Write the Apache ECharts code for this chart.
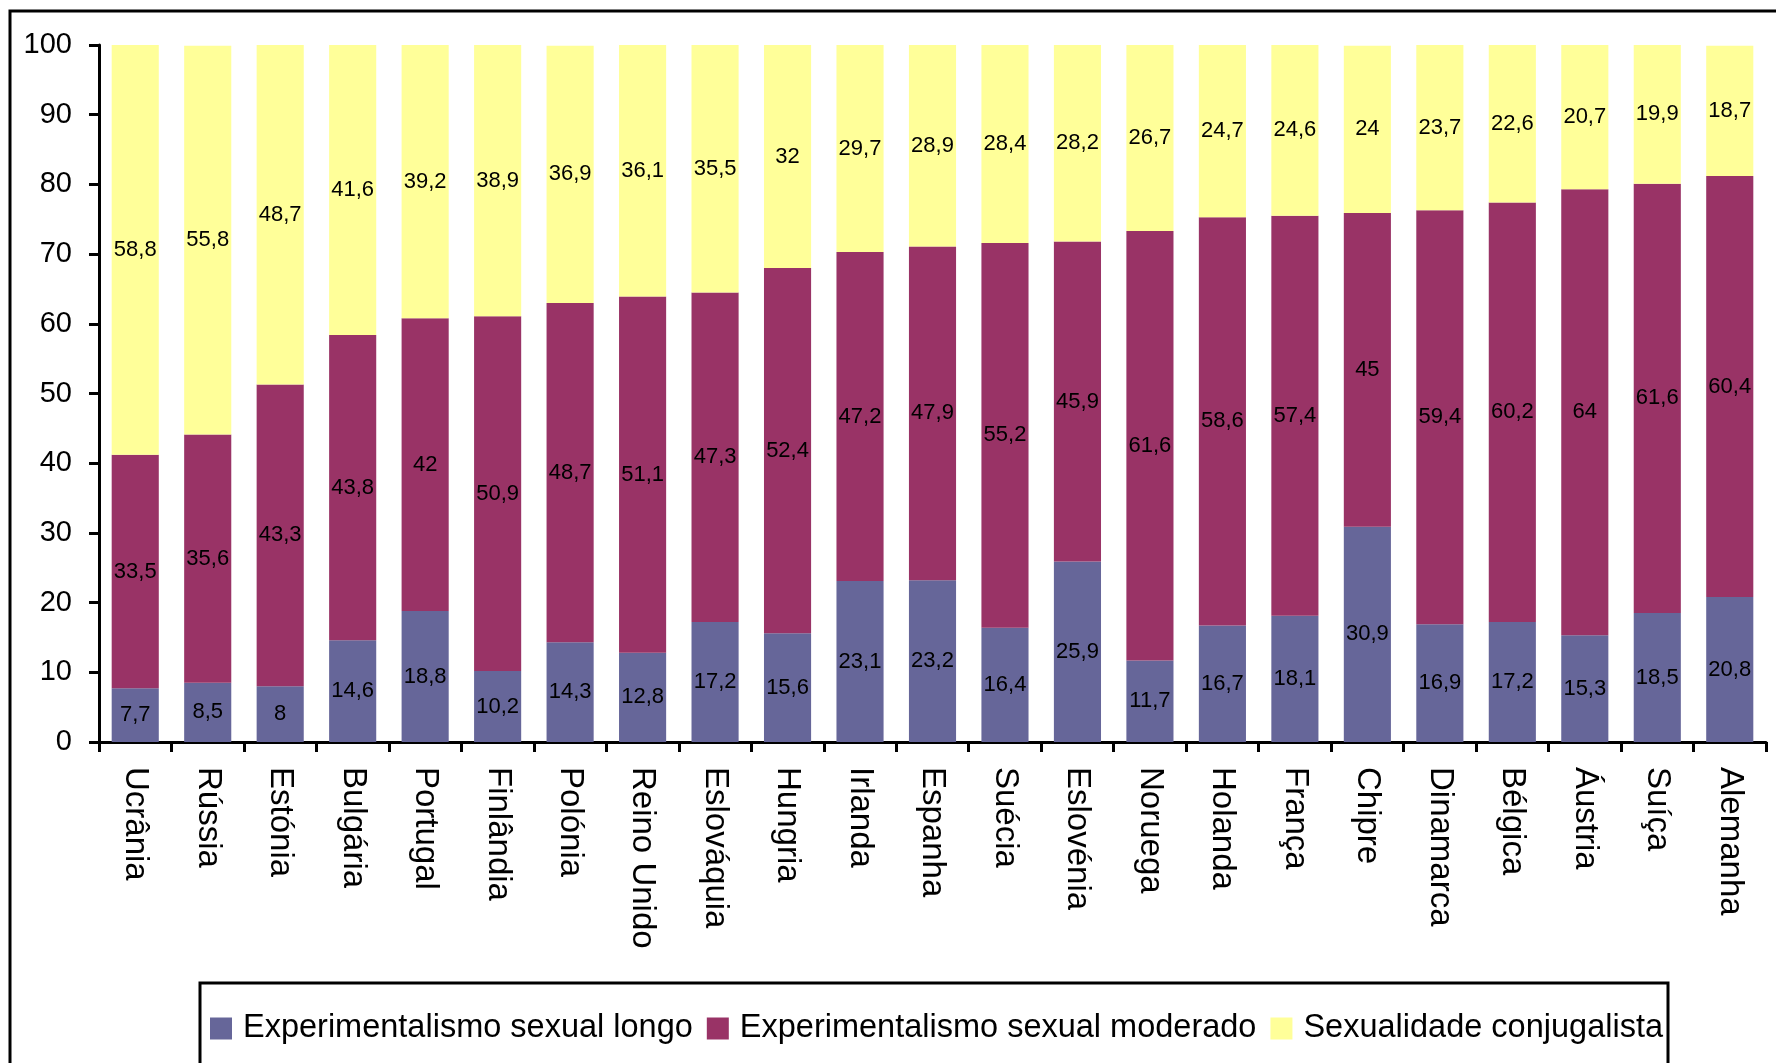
<!DOCTYPE html>
<html>
<head>
<meta charset="utf-8">
<script src="https://cdn.jsdelivr.net/npm/echarts@6/dist/echarts.min.js"></script>
<style>html,body{margin:0;padding:0;background:#fff;}#c{width:1776px;height:1063px;}</style>
</head>
<body>
<div id="c"></div>
<script>
const categories = ["Ucrânia","Rússia","Estónia","Bulgária","Portugal","Finlândia","Polónia","Reino Unido","Eslováquia","Hungria","Irlanda","Espanha","Suécia","Eslovénia","Noruega","Holanda","França","Chipre","Dinamarca","Bélgica","Áustria","Suíça","Alemanha"];
const seriesNames = ["Experimentalismo sexual longo","Experimentalismo sexual moderado","Sexualidade conjugalista"];
const longo = [7.7,8.5,8,14.6,18.8,10.2,14.3,12.8,17.2,15.6,23.1,23.2,16.4,25.9,11.7,16.7,18.1,30.9,16.9,17.2,15.3,18.5,20.8];
const moderado = [33.5,35.6,43.3,43.8,42,50.9,48.7,51.1,47.3,52.4,47.2,47.9,55.2,45.9,61.6,58.6,57.4,45,59.4,60.2,64,61.6,60.4];
const conjugalista = [58.8,55.8,48.7,41.6,39.2,38.9,36.9,36.1,35.5,32,29.7,28.9,28.4,28.2,26.7,24.7,24.6,24,23.7,22.6,20.7,19.9,18.7];
const yTicks = [0,10,20,30,40,50,60,70,80,90,100];

const FONT = "'Liberation Sans', Arial, Helvetica, sans-serif";
const colors = ["#666699","#993366","#FFFF99"];
const chart = echarts.init(document.getElementById('c'), null, {renderer:'canvas'});

function mk(name, data, color){
  return {
    name, type:'bar', stack:'total', data,
    barCategoryGap:'35%',
    itemStyle:{color},
    label:{show:true, position:'inside', color:'#000', fontFamily:FONT, fontSize:22,
      formatter:p=>String(p.value).replace('.',',')},
    emphasis:{disabled:true}
  };
}

chart.setOption({
  animation:false,
  textStyle:{fontFamily:FONT},
  grid:{left:99, right:10, top:45, bottom:321, containLabel:false},
  xAxis:{
    type:'category', data:categories,
    axisLine:{lineStyle:{color:'#000', width:3}},
    axisTick:{show:true, length:10, lineStyle:{color:'#000', width:3}},
    axisLabel:{rotate:-90, margin:25, color:'#000', fontSize:33, fontFamily:FONT, interval:0}
  },
  yAxis:{
    type:'value', min:0, max:100, interval:10,
    axisLine:{show:true, lineStyle:{color:'#000', width:3}},
    axisTick:{show:true, length:10, lineStyle:{color:'#000', width:3}},
    splitLine:{show:false},
    axisLabel:{margin:27, color:'#000', fontSize:29, fontFamily:FONT,
      customValues: yTicks}
  },
  legend:{
    left:210, top:1012, padding:0, itemWidth:22, itemHeight:22, itemGap:14,
    icon:'rect',
    textStyle:{fontSize:32.5, color:'#000', fontFamily:FONT, padding:[0,0,0,6]},
    data:seriesNames
  },
  graphic:[
    {type:'rect', shape:{x:10, y:11, width:1800, height:1100}, style:{fill:null, stroke:'#000', lineWidth:3}, silent:true},
    {type:'rect', shape:{x:200, y:983, width:1468, height:200}, style:{fill:null, stroke:'#000', lineWidth:3}, silent:true, z:100}
  ],
  series:[mk(seriesNames[0], longo, colors[0]), mk(seriesNames[1], moderado, colors[1]), mk(seriesNames[2], conjugalista, colors[2])]
});
</script>
</body>
</html>
